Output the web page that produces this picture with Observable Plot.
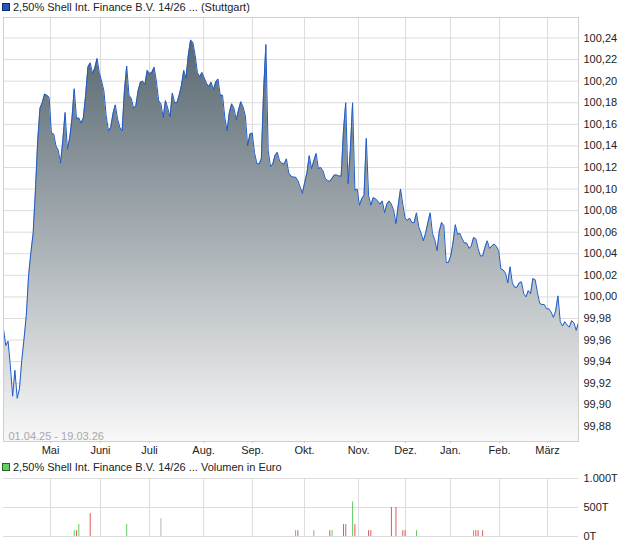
<!DOCTYPE html>
<html><head><meta charset="utf-8">
<script src="https://cdn.jsdelivr.net/npm/d3@7"></script>
<script src="https://cdn.jsdelivr.net/npm/@observablehq/plot@0.6"></script>
<style>
body{margin:0;background:#fff;font-family:"Liberation Sans",Arial,sans-serif;}
#wrap{position:relative;width:620px;height:546px;overflow:hidden;}
.leg{position:absolute;left:2px;font-size:11px;line-height:14px;color:#222;white-space:nowrap;}
.sq{display:inline-block;width:6px;height:6px;margin-right:3px;vertical-align:-0px;}
</style></head><body>
<div id="wrap">
  <div class="leg" style="top:0px"><span class="sq" style="background:#2258b8;border:1px solid #0c2a6e"></span>2,50% Shell Int. Finance B.V. 14/26 ... (Stuttgart)</div>
  <div id="main" style="position:absolute;left:0;top:14px"></div>
  <div class="leg" style="top:460px"><span class="sq" style="background:#66cc66;border:1px solid #226622"></span>2,50% Shell Int. Finance B.V. 14/26 ... Volumen in Euro</div>
  <div id="vol" style="position:absolute;left:0;top:472px"></div>
</div>
<script>
// ---- data ----
const prices = [
  99.970, 99.955, 99.959, 99.936, 99.908, 99.932, 99.906, 99.915, 99.941, 99.961,
  99.983, 100.020, 100.041, 100.059, 100.099, 100.145, 100.175, 100.180, 100.188, 100.187,
  100.185, 100.152, 100.151, 100.140, 100.136, 100.124, 100.145, 100.171, 100.137, 100.147,
  100.165, 100.193, 100.165, 100.166, 100.161, 100.166, 100.187, 100.213, 100.217, 100.207,
  100.212, 100.221, 100.208, 100.200, 100.191, 100.168, 100.154, 100.157, 100.170, 100.178,
  100.165, 100.157, 100.154, 100.191, 100.214, 100.187, 100.184, 100.175, 100.177, 100.191,
  100.199, 100.200, 100.197, 100.210, 100.207, 100.208, 100.213, 100.200, 100.182, 100.179,
  100.166, 100.182, 100.175, 100.167, 100.189, 100.180, 100.180, 100.187, 100.196, 100.210,
  100.203, 100.224, 100.238, 100.236, 100.224, 100.208, 100.204, 100.208, 100.203, 100.198,
  100.195, 100.199, 100.192, 100.199, 100.202, 100.187, 100.187, 100.166, 100.154, 100.171,
  100.179, 100.175, 100.164, 100.173, 100.181, 100.176, 100.168, 100.140, 100.151, 100.152,
  100.134, 100.124, 100.123, 100.128, 100.191, 100.234, 100.136, 100.121, 100.123, 100.131,
  100.134, 100.126, 100.124, 100.123, 100.128, 100.115, 100.112, 100.111, 100.111, 100.108,
  100.102, 100.096, 100.106, 100.115, 100.131, 100.119, 100.126, 100.133, 100.119, 100.120,
  100.117, 100.110, 100.108, 100.107, 100.110, 100.113, 100.113, 100.112, 100.112, 100.154,
  100.180, 100.105, 100.136, 100.180, 100.099, 100.100, 100.085, 100.091, 100.094, 100.147,
  100.094, 100.085, 100.092, 100.091, 100.089, 100.086, 100.089, 100.078, 100.086, 100.089,
  100.086, 100.080, 100.068, 100.085, 100.100, 100.086, 100.073, 100.071, 100.073, 100.069,
  100.069, 100.078, 100.065, 100.059, 100.052, 100.059, 100.069, 100.078, 100.059, 100.053,
  100.043, 100.061, 100.069, 100.066, 100.032, 100.032, 100.038, 100.050, 100.067, 100.058,
  100.059, 100.054, 100.050, 100.050, 100.045, 100.047, 100.055, 100.054, 100.045, 100.038,
  100.038, 100.046, 100.052, 100.045, 100.047, 100.049, 100.047, 100.043, 100.026, 100.025,
  100.022, 100.013, 100.028, 100.013, 100.009, 100.009, 100.013, 100.014, 100.003, 100.000,
  100.006, 100.003, 100.017, 100.016, 100.004, 99.994, 99.993, 99.993, 99.989, 99.989,
  99.986, 99.981, 99.987, 100.001, 99.977, 99.973, 99.977, 99.974, 99.972, 99.978,
  99.976, 99.969, 99.976
];
// month starts as trading-day index
const monthTickIdx = [20.6, 42.5, 64, 87.7, 109.1, 131.9, 155.6, 176.2, 195.9, 217.4, 238.4];
const monthLabels = ["Mai", "Juni", "Juli", "Aug.", "Sep.", "Okt.", "Nov.", "Dez.", "Jan.", "Feb.", "März"];
const priceTicks = [99.88, 99.90, 99.92, 99.94, 99.96, 99.98, 100.00, 100.02, 100.04, 100.06,
  100.08, 100.10, 100.12, 100.14, 100.16, 100.18, 100.20, 100.22, 100.24];
const priceDomain = [99.866, 100.259];
const dateRange = "01.04.25 - 19.03.26";

const volIdx = [31, 32, 33, 38, 54, 69, 128, 129, 136, 143, 144, 149, 150, 153, 154, 160, 161, 170, 172, 175, 176, 181, 206, 207, 208, 210];
const volT   = [100, 100, 205, 395, 205, 305, 100, 100, 100, 100, 100, 205, 205, 595, 205, 100, 100, 500, 500, 100, 100, 100, 100, 100, 100, 100];
const volDir = ["up","down","up","down","up","flat","up","down","up","down","up","down","down","up","down","down","down","down","down","down","down","up","up","down","down","down"];
const volTicks = [0, 500, 1000];
const volTickLabels = ["0T", "500T", "1.000T"];

// ---- styles ----
const dirColor = {up: "#5fcf5f", down: "#dc5a5a", flat: "#b4b4b4"};
const font = {fontFamily: "'Liberation Sans', Arial, sans-serif", fontSize: "11px", color: "#222", background: "transparent", overflow: "visible"};
const fmtPrice = v => v.toFixed(2).replace(".", ",");

const data = prices.map((v, i) => ({i, v}));
const n = prices.length - 1;

const main = Plot.plot({
  width: 620, height: 444,
  marginTop: 3, marginBottom: 17, marginLeft: 3, marginRight: 42,
  style: font,
  x: {domain: [0, n], axis: null},
  y: {domain: priceDomain, axis: null},
  marks: [
    Plot.ruleY(priceTicks, {stroke: "#dcdcdc"}),
    Plot.ruleX(monthTickIdx, {stroke: "#dcdcdc"}),
    Plot.areaY(data, {x: "i", y1: priceDomain[0], y2: "v", fill: "url(#areaGrad)"}),
    Plot.line(data, {x: "i", y: "v", stroke: "#1f5cc8", strokeWidth: 1}),
    Plot.frame({stroke: "#cfcfcf"}),
    Plot.axisY(priceTicks, {anchor: "right", tickSize: 0, tickPadding: 5, tickFormat: fmtPrice, fill: "#222", label: null}),
    Plot.axisX(monthTickIdx, {anchor: "bottom", tickSize: 2, tickPadding: 3, stroke: "#c8c8c8", fill: "#222",
      tickFormat: d => monthLabels[monthTickIdx.indexOf(d)], label: null}),
    Plot.text([dateRange], {frameAnchor: "bottom-left", dx: 5, dy: -2, fill: "#a8a8a8", textAnchor: "start", lineAnchor: "bottom", text: d => d})
  ]
});
const ys = main.scale("y");
const defs = d3.select(main).insert("defs", ":first-child");
const grad = defs.append("linearGradient").attr("id", "areaGrad")
  .attr("gradientUnits", "userSpaceOnUse")
  .attr("x1", 0).attr("x2", 0)
  .attr("y1", ys.apply(priceDomain[1])).attr("y2", ys.apply(priceDomain[0]));
grad.append("stop").attr("offset", 0).attr("stop-color", "#4f5f69");
grad.append("stop").attr("offset", 1).attr("stop-color", "#f8f8f8");
document.getElementById("main").appendChild(main);

const vol = volIdx.map((i, k) => ({i, v: volT[k], c: dirColor[volDir[k]]}));
const volChart = Plot.plot({
  width: 620, height: 74,
  marginTop: 6, marginBottom: 10, marginLeft: 3, marginRight: 42,
  style: font,
  x: {domain: [0, n], axis: null},
  y: {domain: [0, 1000], axis: null},
  color: {type: "identity"},
  marks: [
    Plot.ruleY(volTicks, {stroke: "#dcdcdc"}),
    Plot.ruleX(monthTickIdx, {stroke: "#dcdcdc"}),
    Plot.ruleX(vol, {x: "i", y1: 0, y2: "v", stroke: "c", strokeWidth: 1}),
    Plot.axisY(volTicks, {anchor: "right", tickSize: 0, tickPadding: 5, fill: "#222", label: null,
      tickFormat: d => volTickLabels[volTicks.indexOf(d)]})
  ]
});
document.getElementById("vol").appendChild(volChart);
</script>
</body></html>
